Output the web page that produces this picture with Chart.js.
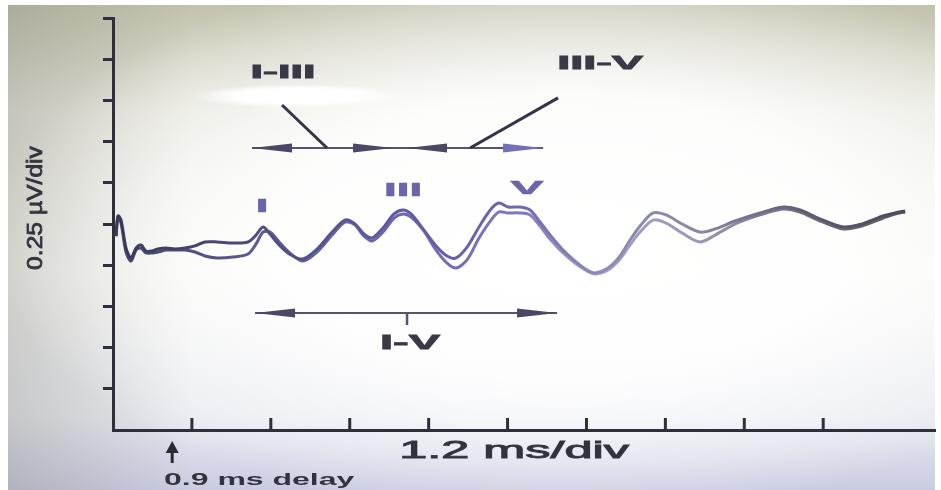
<!DOCTYPE html>
<html>
<head>
<meta charset="utf-8">
<script src="https://cdn.jsdelivr.net/npm/chart.js@4.4.1/dist/chart.umd.min.js"></script>
<style>
    html, body { margin: 0; padding: 0; background: #ffffff; }
    #wrap { position: relative; width: 941px; height: 490px; overflow: hidden; }
    #paper {
        position: absolute; left: 8px; top: 5px; width: 927px; height: 485px;
        background:
            radial-gradient(ellipse 105px 12px at 290px 91px, #ffffff 60%, rgba(255,255,255,0) 100%),
            radial-gradient(ellipse 62% 58% at 60% 48%, rgba(255,255,255,1) 0%, rgba(255,255,255,0.9) 50%, rgba(255,255,255,0) 100%),
            linear-gradient(to right, rgba(120,120,110,0.30) 0%, rgba(120,120,110,0) 20%),
            linear-gradient(to bottom, #c2c2ae 0%, #e6e6dc 22%, #f6f6f2 55%, #e8eaf2 85%, #c9cce0 100%);
    }
    canvas { position: absolute; left: 0; top: 0; }
</style>
</head>
<body>
<div id="wrap">
    <div id="paper"></div>
    <canvas id="abrChart" width="941" height="490"></canvas>
</div>
<script>
// Zeitachse (ms) und die beiden Kurven (µV)
const timeMs = [0.046, 0.076, 0.122, 0.198, 0.274, 0.350, 0.426, 0.502, 0.593, 0.684,
    0.806, 0.943, 1.095, 1.247, 1.399, 1.582, 1.825, 2.053, 2.175, 2.281,
    2.388, 2.540, 2.707, 2.890, 3.118, 3.331, 3.528, 3.681, 3.802, 3.939,
    4.106, 4.274, 4.411, 4.532, 4.715, 4.913, 5.080, 5.217, 5.384, 5.566,
    5.749, 5.871, 6.008, 6.190, 6.342, 6.494, 6.646, 6.829, 7.027, 7.209,
    7.331, 7.528, 7.711, 7.863, 8.015, 8.213, 8.411, 8.654, 8.928, 9.156,
    9.460, 9.840, 10.190, 10.449, 10.722, 11.103, 11.392, 11.711, 11.893, 12.046];

const traceA = [1.177, 1.299, 1.274, 1.104, 1.044, 1.104, 1.123, 1.086, 1.086, 1.098,
    1.104, 1.098, 1.104, 1.117, 1.141, 1.141, 1.135, 1.141, 1.183, 1.232,
    1.189, 1.117, 1.062, 1.038, 1.104, 1.201, 1.274, 1.250, 1.195, 1.165,
    1.226, 1.311, 1.335, 1.311, 1.220, 1.117, 1.056, 1.044, 1.110, 1.232,
    1.341, 1.377, 1.353, 1.353, 1.335, 1.262, 1.183, 1.098, 1.025, 0.971,
    0.953, 0.983, 1.056, 1.153, 1.238, 1.317, 1.305, 1.250, 1.201, 1.220,
    1.268, 1.317, 1.353, 1.335, 1.286, 1.232, 1.250, 1.299, 1.317, 1.329];

const traceB = [1.177, 1.292, 1.256, 1.080, 1.025, 1.092, 1.104, 1.074, 1.074, 1.080,
    1.092, 1.092, 1.092, 1.080, 1.056, 1.044, 1.050, 1.068, 1.129, 1.201,
    1.201, 1.135, 1.068, 1.025, 1.086, 1.183, 1.262, 1.244, 1.183, 1.147,
    1.201, 1.286, 1.311, 1.292, 1.214, 1.092, 1.013, 0.983, 1.032, 1.165,
    1.274, 1.323, 1.317, 1.317, 1.305, 1.238, 1.159, 1.080, 1.013, 0.965,
    0.947, 0.971, 1.038, 1.123, 1.201, 1.274, 1.256, 1.195, 1.141, 1.183,
    1.250, 1.305, 1.341, 1.323, 1.274, 1.220, 1.238, 1.286, 1.311, 1.323];

// Achsen: 1.2 ms/div, 0.25 µV/div
const xMax = 12.5;
const xStep = 1.2;
const yMax = 2.5;
const yStep = 0.25;
const delayMs = 0.9;

// Beschriftungen der Wellen (Text, ms, µV)
const peakLabels = ['I', 'III', 'V'];
const peakX = [2.266, 4.411, 6.297];
const peakY = [1.353, 1.450, 1.462];

// Intervallpfeile (Start ms, Ende ms, Höhe µV)
const intervalNames = ['I-III', 'III-V', 'I-V'];
const intervalStart = [2.114, 4.471, 2.160];
const intervalEnd = [4.259, 6.540, 6.753];
const intervalY = [1.711, 1.711, 0.710];
const intervalTextX = [2.585, 7.407, 4.517];
const intervalTextY = [2.166, 2.221, 0.528];
// Hinweislinien von den Beschriftungen zur Pfeillinie
const leaderFromX = [2.570, 6.768];
const leaderFromY = [1.972, 2.015];
const leaderToX = [3.255, 5.430];

// Farbverlauf entlang der Kurve
function traceGradient(stops) {
    return function (context) {
        const chart = context.chart;
        const area = chart.chartArea;
        if (!area) return stops[0][1];
        const g = chart.ctx.createLinearGradient(area.left, 0, area.right, 0);
        stops.forEach(s => g.addColorStop(s[0], s[1]));
        return g;
    };
}

// Gestreckter Text (das Foto ist in die Breite gezogen)
function stretchText(ctx, text, x, y, sx, font, color, outline) {
    ctx.save();
    ctx.translate(x, y);
    ctx.scale(sx, 1);
    ctx.font = font;
    ctx.fillStyle = color;
    ctx.textAlign = 'center';
    ctx.textBaseline = 'middle';
    ctx.fillText(text, 0, 0);
    if (outline) {
        ctx.strokeStyle = color;
        ctx.lineWidth = outline;
        ctx.strokeText(text, 0, 0);
    }
    ctx.restore();
}

function arrowHead(ctx, tipX, y, len, half, color) {
    ctx.save();
    ctx.fillStyle = color;
    ctx.beginPath();
    ctx.moveTo(tipX, y);
    ctx.lineTo(tipX + len, y - half);
    ctx.lineTo(tipX + len, y + half);
    ctx.closePath();
    ctx.fill();
    ctx.restore();
}

const overlay = {
    id: 'overlay',
    afterDatasetsDraw(chart) {
        const ctx = chart.ctx;
        const xs = chart.scales.x;
        const ys = chart.scales.y;
        const area = chart.chartArea;
        const ink = '#2f2f3c';

        // x-Striche nach innen
        ctx.save();
        ctx.strokeStyle = ink;
        ctx.lineWidth = 3;
        xs.ticks.forEach(t => {
            const k = t.value / xStep;
            if (t.value <= 0 || Math.abs(k - Math.round(k)) > 1e-6) return;
            const px = xs.getPixelForValue(t.value);
            ctx.beginPath();
            ctx.moveTo(px, area.bottom);
            ctx.lineTo(px, area.bottom - 12);
            ctx.stroke();
        });
        ctx.restore();

        // Intervallpfeile
        ctx.save();
        ctx.strokeStyle = '#55536e';
        ctx.lineWidth = 2;
        // obere Linie I-III und III-V durchgehend
        const topY = ys.getPixelForValue(intervalY[0]);
        ctx.beginPath();
        ctx.moveTo(xs.getPixelForValue(intervalStart[0]), topY);
        ctx.lineTo(xs.getPixelForValue(intervalEnd[1]), topY);
        ctx.stroke();
        for (let i = 0; i < intervalNames.length; i++) {
            const x1 = xs.getPixelForValue(intervalStart[i]);
            const x2 = xs.getPixelForValue(intervalEnd[i]);
            const y = ys.getPixelForValue(intervalY[i]);
            ctx.beginPath();
            ctx.moveTo(x1, y);
            ctx.lineTo(x2, y);
            ctx.stroke();
            arrowHead(ctx, x1, y, 40, 4.5, '#4a4862');
            arrowHead(ctx, x2, y, -40, 4.5, i === 1 ? '#7470b8' : '#4a4862');
        }
        // Mittelstrich I-V
        const midX = xs.getPixelForValue(intervalTextX[2]);
        const midY = ys.getPixelForValue(intervalY[2]);
        ctx.lineWidth = 2.5;
        ctx.beginPath();
        ctx.moveTo(midX - 3, midY);
        ctx.lineTo(midX - 3, midY + 12);
        ctx.stroke();
        // Hinweislinien
        ctx.strokeStyle = '#34334a';
        ctx.lineWidth = 3;
        for (let i = 0; i < leaderFromX.length; i++) {
            ctx.beginPath();
            ctx.moveTo(xs.getPixelForValue(leaderFromX[i]), ys.getPixelForValue(leaderFromY[i]));
            ctx.lineTo(xs.getPixelForValue(leaderToX[i]), ys.getPixelForValue(intervalY[i]));
            ctx.stroke();
        }
        ctx.restore();

        // Intervallnamen
        const sx = [2.5, 2.6, 2.35];
        const fonts = ['bold 18px "Liberation Sans"', 'bold 18px "Liberation Sans"', 'bold 20px "Liberation Sans"'];
        for (let i = 0; i < intervalNames.length; i++) {
            stretchText(ctx, intervalNames[i], xs.getPixelForValue(intervalTextX[i]),
                ys.getPixelForValue(intervalTextY[i]), sx[i], fonts[i], '#3a3946', 0.8);
        }

        // Wellen I, III, V
        const psx = [2.4, 2.4, 2.6];
        for (let i = 0; i < peakLabels.length; i++) {
            stretchText(ctx, peakLabels[i], xs.getPixelForValue(peakX[i]),
                ys.getPixelForValue(peakY[i]), psx[i], 'bold 19px "Liberation Sans"', '#6a66aa', 0.6);
        }

        // Achsentitel
        stretchText(ctx, '1.2 ms/div', (area.left + area.right) / 2 - 10, area.bottom + 21,
            2.1, '24px "Liberation Sans"', '#33333f', 0.9);

        const dx = xs.getPixelForValue(delayMs);
        ctx.save();
        ctx.strokeStyle = '#2a2a33';
        ctx.fillStyle = '#2a2a33';
        ctx.lineWidth = 3;
        ctx.beginPath();
        ctx.moveTo(dx, area.bottom + 33);
        ctx.lineTo(dx, area.bottom + 20);
        ctx.stroke();
        ctx.beginPath();
        ctx.moveTo(dx, area.bottom + 11);
        ctx.lineTo(dx - 6.5, area.bottom + 23);
        ctx.lineTo(dx + 6.5, area.bottom + 23);
        ctx.closePath();
        ctx.fill();
        ctx.restore();
        stretchText(ctx, '0.9 ms delay', dx + 87, area.bottom + 51,
            2.0, 'bold 16px "Liberation Sans"', '#33333f');

        ctx.save();
        ctx.translate(36, 208);
        ctx.rotate(-Math.PI / 2);
        ctx.scale(1.12, 1);
        ctx.font = '22px "Liberation Sans"';
        ctx.fillStyle = '#33333f';
        ctx.strokeStyle = '#33333f';
        ctx.lineWidth = 0.8;
        ctx.textAlign = 'center';
        ctx.textBaseline = 'middle';
        ctx.fillText('0.25 µV/div', 0, 0);
        ctx.strokeText('0.25 µV/div', 0, 0);
        ctx.restore();
    }
};

const chart = new Chart(document.getElementById('abrChart'), {
    type: 'line',
    data: {
        labels: timeMs,
        datasets: [{
            label: 'Kurve A',
            data: timeMs.map((t, i) => ({ x: t, y: traceA[i] })),
            borderColor: traceGradient([[0, '#3a3858'], [0.18, '#4f4c80'], [0.35, '#5f5aa0'], [0.5, '#6f6bb0'],
                [0.59, '#8d8ab8'], [0.71, '#8a88a6'], [0.84, '#5e5d72'], [1, '#44444e']]),
            borderWidth: 3,
            pointRadius: 0,
            tension: 0.3
        }, {
            label: 'Kurve B',
            data: timeMs.map((t, i) => ({ x: t, y: traceB[i] })),
            borderColor: traceGradient([[0, '#45436a'], [0.18, '#5d5a95'], [0.35, '#6c68b0'], [0.5, '#7e7ac0'],
                [0.59, '#a3a0c8'], [0.71, '#9a98b4'], [0.84, '#6c6b80'], [1, '#55555f']]),
            borderWidth: 3,
            pointRadius: 0,
            tension: 0.3
        }]
    },
    options: {
        responsive: false,
        animation: false,
        layout: { padding: { left: 103, top: 18, right: 6, bottom: 60 } },
        plugins: {
            legend: { display: false },
            tooltip: { enabled: false }
        },
        scales: {
            x: {
                type: 'linear',
                min: 0,
                max: xMax,
                ticks: { display: false, stepSize: xStep },
                grid: { display: true, drawOnChartArea: false, drawTicks: false },
                border: { display: true, color: '#2f2f3c', width: 3 }
            },
            y: {
                min: 0,
                max: yMax,
                ticks: { display: false, stepSize: yStep },
                grid: {
                    drawOnChartArea: false,
                    drawTicks: true,
                    tickLength: 10,
                    tickWidth: 3,
                    tickColor: (c) => (c.tick && c.tick.value === 0) ? 'rgba(0,0,0,0)' : '#2f2f3c'
                },
                border: { display: true, color: '#2f2f3c', width: 3 }
            }
        }
    },
    plugins: [overlay]
});
</script>
</body>
</html>
